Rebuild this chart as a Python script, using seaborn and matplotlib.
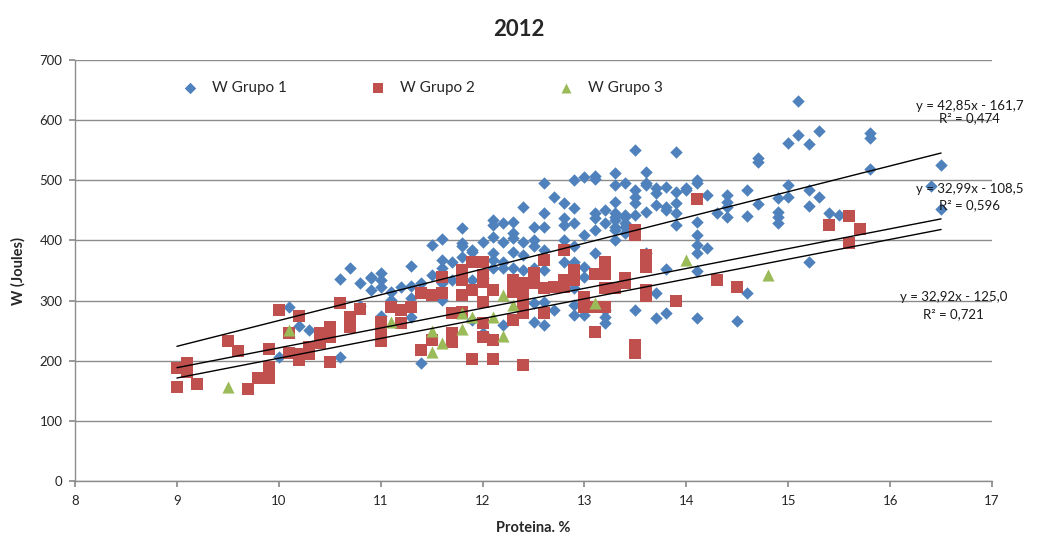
import matplotlib
matplotlib.use('Agg')
import matplotlib.pyplot as plt
import numpy as np
import pandas as pd
import seaborn as sns

# ── data ─────────────────────────────────────────────────────────────────────
g1_x = [10.0, 10.1, 10.2, 10.3, 10.6, 10.6, 10.7, 10.8, 10.8, 10.9, 10.9, 10.9,
        11.0, 11.0, 11.0, 11.0, 11.1, 11.1, 11.2, 11.3, 11.3, 11.3, 11.3, 11.4,
        11.4, 11.5, 11.5, 11.6, 11.6, 11.6, 11.6, 11.6, 11.7, 11.7, 11.8, 11.8,
        11.8, 11.8, 11.9, 11.9, 11.9, 11.9, 12.0, 12.0, 12.0, 12.1, 12.1, 12.1,
        12.1, 12.1, 12.1, 12.2, 12.2, 12.2, 12.2, 12.2, 12.3, 12.3, 12.3, 12.3,
        12.3, 12.4, 12.4, 12.4, 12.4, 12.5, 12.5, 12.5, 12.5, 12.5, 12.5, 12.6,
        12.6, 12.6, 12.6, 12.6, 12.6, 12.6, 12.7, 12.7, 12.8, 12.8, 12.8, 12.8,
        12.8, 12.9, 12.9, 12.9, 12.9, 12.9, 12.9, 12.9, 12.9, 13.0, 13.0, 13.0,
        13.0, 13.0, 13.1, 13.1, 13.1, 13.1, 13.1, 13.1, 13.2, 13.2, 13.2, 13.2,
        13.2, 13.3, 13.3, 13.3, 13.3, 13.3, 13.3, 13.3, 13.3, 13.3, 13.4, 13.4,
        13.4, 13.4, 13.4, 13.4, 13.5, 13.5, 13.5, 13.5, 13.5, 13.5, 13.6, 13.6,
        13.6, 13.6, 13.6, 13.7, 13.7, 13.7, 13.7, 13.7, 13.8, 13.8, 13.8, 13.8,
        13.8, 13.9, 13.9, 13.9, 13.9, 13.9, 14.0, 14.0, 14.1, 14.1, 14.1, 14.1,
        14.1, 14.1, 14.1, 14.1, 14.2, 14.2, 14.3, 14.4, 14.4, 14.4, 14.4, 14.5,
        14.6, 14.6, 14.6, 14.7, 14.7, 14.7, 14.9, 14.9, 14.9, 14.9, 15.0, 15.0,
        15.0, 15.1, 15.1, 15.2, 15.2, 15.2, 15.2, 15.3, 15.3, 15.4, 15.5, 15.8,
        15.8, 15.8, 16.4, 16.5, 16.5]
g1_y = [206, 289, 258, 251, 206, 336, 354, 329, 291, 337, 318, 339,
        346, 334, 323, 274, 314, 301, 323, 357, 324, 304, 273, 329,
        196, 392, 343, 402, 367, 354, 329, 301, 364, 334, 421, 396,
        390, 372, 384, 381, 334, 268, 397, 337, 246, 434, 426, 406,
        379, 367, 354, 429, 397, 364, 354, 259, 431, 412, 404, 381,
        354, 456, 397, 376, 351, 423, 401, 390, 354, 296, 264, 495,
        445, 423, 384, 351, 298, 259, 473, 284, 462, 437, 426, 401,
        364, 500, 454, 429, 390, 364, 321, 293, 276, 505, 409, 356,
        339, 276, 507, 502, 445, 437, 417, 379, 451, 429, 284, 273,
        262, 512, 492, 464, 445, 439, 434, 423, 417, 401, 495, 442,
        439, 429, 423, 412, 550, 484, 473, 462, 442, 284, 514, 495,
        492, 447, 379, 487, 479, 459, 312, 271, 489, 456, 451, 352,
        279, 547, 481, 462, 445, 426, 487, 484, 500, 496, 431, 409,
        392, 379, 349, 271, 476, 387, 445, 476, 464, 456, 439, 266,
        484, 441, 312, 537, 531, 461, 471, 447, 439, 429, 562, 492,
        473, 632, 575, 560, 484, 457, 364, 582, 473, 446, 442, 578,
        570, 519, 490, 525, 452]

g2_x = [9.0, 9.0, 9.1, 9.1, 9.2, 9.5, 9.6, 9.7, 9.8, 9.9, 9.9, 9.9,
        10.0, 10.1, 10.1, 10.2, 10.2, 10.2, 10.3, 10.3, 10.4, 10.4, 10.5, 10.5,
        10.5, 10.6, 10.7, 10.7, 10.8, 11.0, 11.0, 11.0, 11.1, 11.2, 11.2, 11.3,
        11.4, 11.4, 11.5, 11.5, 11.6, 11.6, 11.7, 11.7, 11.7, 11.8, 11.8, 11.8,
        11.8, 11.8, 11.9, 11.9, 11.9, 12.0, 12.0, 12.0, 12.0, 12.0, 12.0, 12.1,
        12.1, 12.1, 12.3, 12.3, 12.3, 12.4, 12.4, 12.4, 12.4, 12.4, 12.5, 12.5,
        12.6, 12.6, 12.6, 12.7, 12.8, 12.8, 12.8, 12.9, 12.9, 13.0, 13.0, 13.1,
        13.1, 13.1, 13.2, 13.2, 13.2, 13.2, 13.3, 13.4, 13.4, 13.5, 13.5, 13.5,
        13.5, 13.6, 13.6, 13.6, 13.6, 13.9, 14.1, 14.3, 14.5, 15.4, 15.6, 15.6,
        15.7]
g2_y = [188, 156, 196, 181, 161, 233, 216, 153, 171, 171, 190, 219,
        284, 213, 246, 274, 212, 201, 223, 212, 246, 229, 256, 240,
        198, 296, 273, 256, 286, 264, 248, 233, 289, 284, 262, 289,
        312, 218, 309, 234, 339, 312, 279, 246, 231, 351, 348, 334,
        309, 281, 364, 318, 203, 364, 343, 331, 298, 262, 240, 318,
        234, 203, 334, 314, 268, 329, 309, 293, 279, 193, 346, 329,
        367, 321, 279, 323, 384, 334, 323, 351, 334, 306, 289, 344,
        289, 248, 364, 344, 321, 289, 321, 337, 329, 417, 409, 226,
        213, 376, 356, 318, 308, 299, 469, 334, 323, 426, 441, 396,
        419]

g3_x = [9.5, 10.1, 11.1, 11.5, 11.5, 11.6, 11.8, 11.8, 11.9, 12.1, 12.2, 12.2,
        12.3, 13.1, 14.0, 14.8]
g3_y = [156, 251, 265, 250, 215, 230, 279, 253, 273, 273, 309, 241,
        293, 296, 367, 342]

groups = ['W Grupo 1', 'W Grupo 2', 'W Grupo 3']

# trend lines as printed on the chart: slope, intercept, R²
trend_slope = [42.85, 32.99, 32.92]
trend_icept = [-161.7, -108.5, -125.0]
trend_r2 = ['0,474', '0,596', '0,721']
trend_eq = ['y = 42,85x - 161,7', 'y = 32,99x - 108,5', 'y = 32,92x - 125,0']
trend_xrange = [9.0, 16.5]

# ── styling ──────────────────────────────────────────────────────────────────
sns.set_theme(style='white')
plt.rcParams['font.family'] = ['Lato', 'DejaVu Sans']

colors = {'W Grupo 1': '#4F81BD', 'W Grupo 2': '#C0504D', 'W Grupo 3': '#9BBB59'}
markers = {'W Grupo 1': 'D', 'W Grupo 2': 's', 'W Grupo 3': '^'}
sizes = {'W Grupo 1': 40, 'W Grupo 2': 76, 'W Grupo 3': 76}
legend_sizes = [34, 48, 52]

df = pd.concat([
    pd.DataFrame({'x': g1_x, 'y': g1_y, 'grupo': groups[0]}),
    pd.DataFrame({'x': g2_x, 'y': g2_y, 'grupo': groups[1]}),
    pd.DataFrame({'x': g3_x, 'y': g3_y, 'grupo': groups[2]}),
], ignore_index=True)

fig = plt.figure(figsize=(10.38, 5.42), dpi=100)
ax = fig.add_axes([0.0723, 0.1125, 0.8834, 0.7768])

for g in groups:
    sub = df[df['grupo'] == g]
    sns.scatterplot(data=sub, x='x', y='y', marker=markers[g], color=colors[g],
                    s=sizes[g], linewidth=0, label=g, ax=ax, zorder=3)

xs = np.array(trend_xrange)
for m, b in zip(trend_slope, trend_icept):
    ax.plot(xs, m * xs + b, color='black', linewidth=1.0, zorder=4)

# equation labels (data coords)
lab_pos = [(16.78, 623, 604), (16.78, 486, 458), (16.62, 306, 278)]
for (lx, ly1, ly2), eq, r2 in zip(lab_pos, trend_eq, trend_r2):
    ax.text(lx, ly1, eq, ha='center', va='center', fontsize=9.5, color='#1a1a1a', zorder=5)
    ax.text(lx, ly2, f'R² = {r2}', ha='center', va='center', fontsize=9.5, color='#1a1a1a', zorder=5)

ax.set_xlim(8, 17)
ax.set_ylim(0, 700)
ax.set_xticks(range(8, 18))
ax.set_yticks(range(0, 701, 100))
ax.yaxis.grid(True, color='#8c8c8c', linewidth=1.0)
ax.xaxis.grid(False)
ax.set_axisbelow(True)
for side in ['top', 'right']:
    ax.spines[side].set_visible(False)
for side in ['left', 'bottom']:
    ax.spines[side].set_color('#8c8c8c')
    ax.spines[side].set_linewidth(1.0)
ax.tick_params(axis='x', bottom=True, length=4, color='#8c8c8c', labelsize=9.5, pad=6)
ax.tick_params(axis='y', left=True, length=4, color='#8c8c8c', labelsize=9.5, pad=5)

ax.set_xlabel('Proteina. %', fontsize=10.5, fontweight='bold', labelpad=10)
ax.set_ylabel('W (Joules)', fontsize=10.5, fontweight='bold', labelpad=10)
fig.suptitle('2012', fontsize=16, fontweight='bold', y=0.965)

leg = ax.legend(loc='center left', bbox_to_anchor=(0.094, 0.933), ncol=3, frameon=False,
                fontsize=11, columnspacing=5.0, handletextpad=0.4)
for h, sz in zip(leg.legend_handles, legend_sizes):
    h.set_sizes([sz])

fig.savefig('out.png', dpi=100)
